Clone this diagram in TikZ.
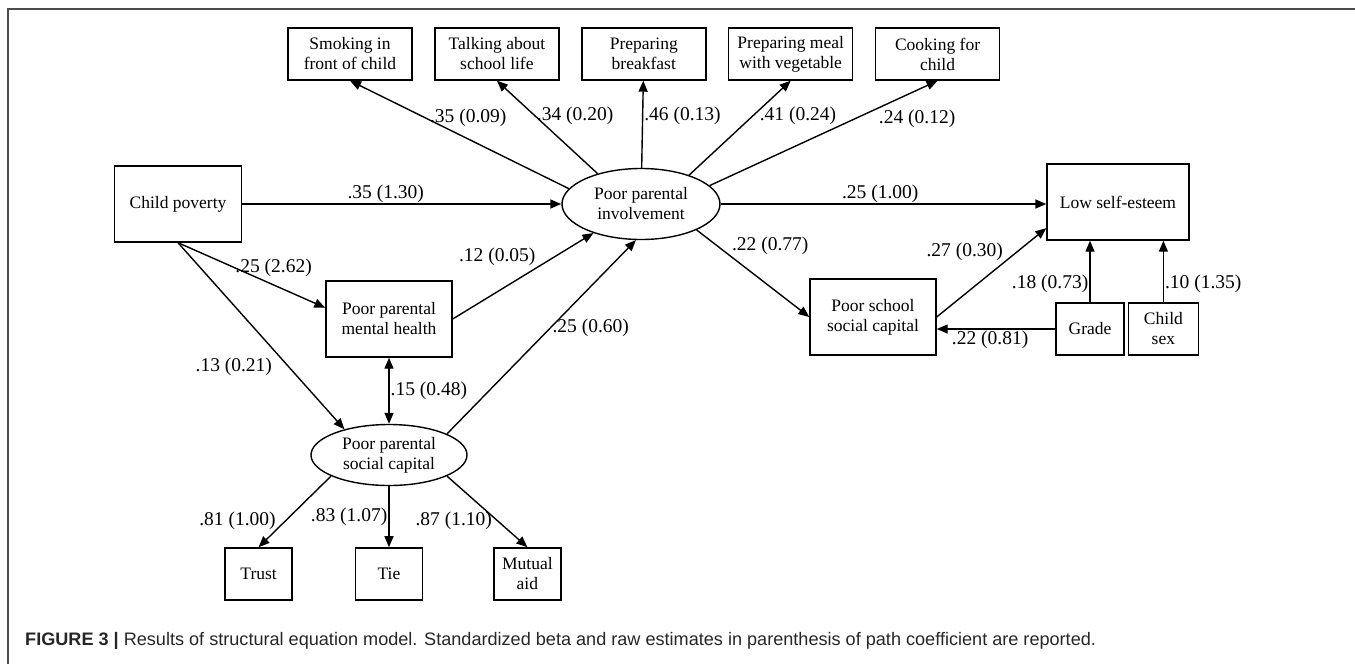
\documentclass[tikz,border=0pt]{standalone}
\usepackage{fontspec}
\setmainfont{Liberation Serif}
\newfontfamily\capfont{Liberation Sans}
\usetikzlibrary{positioning}
\usetikzlibrary{arrows.meta}
\usetikzlibrary{shapes.geometric}
\newcommand{\boxfont}{\fontsize{17.5}{20}\selectfont}
\newcommand{\coeffont}{\fontsize{19.5}{22}\selectfont}

\begin{document}
\begin{tikzpicture}[x=1pt,y=-1pt,
  >={Triangle[length=11pt,width=9pt]},
  box/.style={draw,line width=1.4pt,align=center,inner sep=2pt,font=\boxfont},
  ind/.style={box,minimum width=124pt,minimum height=52pt},
  big/.style={box,minimum width=126pt,minimum height=76pt},
  small/.style={box,minimum width=68pt,minimum height=52pt},
  latent/.style={box,ellipse,inner sep=0pt},
  coef/.style={font=\coeffont,inner sep=1pt},
  pth/.style={line width=1.4pt,->}]

  \useasboundingbox (0,0) rectangle (1355,664);
  \draw[line width=1.5pt,black!70] (8,664) -- (8,9) -- (1355,9);

  % Latent variables
  \node[latent,minimum width=158pt,minimum height=71pt] (inv) at (641,204) {Poor parental\\involvement};
  \node[latent,minimum width=156pt,minimum height=61pt] (sc) at (389,455) {Poor parental\\social capital};

  % Observed variables
  \node[big,minimum width=127pt] (cp) at (178,204) {Child poverty};
  \node[big] (mh) at (389,319) {Poor parental\\mental health};
  \node[big] (school) at (873,317) {Poor school\\social capital};
  \node[big,minimum width=142pt] (lse) at (1118,202) {Low self-esteem};
  \node[small] (grade) at (1090,329) {Grade};
  \node[small,minimum width=70pt,right=3pt of grade] (sex) {Child\\sex};

  % Indicators of involvement (top row)
  \node[ind] (smoke) at (350,54) {Smoking in\\front of child};
  \node[ind,right=21.5pt of smoke] (talk) {Talking about\\school life};
  \node[ind,right=21.5pt of talk] (brk) {Preparing\\breakfast};
  \node[ind,right=21.5pt of brk] (meal) {Preparing meal\\with vegetable};
  \node[ind,right=21.5pt of meal] (cook) {Cooking for\\child};

  % Indicators of social capital (bottom row)
  \node[small,minimum width=67pt,below=61pt of sc] (tie) {Tie};
  \node[small,minimum width=67pt,left=62pt of tie] (trust) {Trust};
  \node[small,minimum width=67pt,right=70pt of tie] (mutual) {Mutual\\aid};

  % Measurement paths
  \draw[pth] (inv.168) -- node[coef,pos=0.66,anchor=west,xshift=4pt]{.35 (0.09)} (smoke.south);
  \draw[pth] (inv.145) -- node[coef,pos=0.62,anchor=west]{.34 (0.20)} (talk.south);
  \draw[pth] (inv) -- node[coef,pos=0.6,anchor=west]{.46 (0.13)} (brk);
  \draw[pth] (inv.31) -- node[coef,pos=0.63,anchor=west,xshift=5pt]{.41 (0.24)} (meal.south);
  \draw[pth] (inv.15) -- node[coef,pos=0.735,anchor=north west]{.24 (0.12)} (cook.south);
  \draw[pth] (sc.200) -- node[coef,pos=0.63,anchor=east,xshift=-8pt]{.81 (1.00)} (trust.north);
  \draw[pth] (sc) -- node[coef,pos=0.5,left]{.83 (1.07)} (tie);
  \draw[pth] (sc.340) -- node[coef,pos=0.63,anchor=east,xshift=-4pt]{.87 (1.10)} (mutual.north);

  % Structural paths
  \draw[pth] (cp) -- node[coef,pos=0.45,above]{.35 (1.30)} (inv);
  \draw[pth] (cp.south) -- node[coef,pos=0.385,anchor=west,inner sep=0pt]{.25 (2.62)} (mh.170);
  \draw[pth] (cp.south) -- node[coef,pos=0.665,anchor=east,xshift=-15pt]{.13 (0.21)} (sc.150);
  \draw[pth] (mh.east) -- node[coef,pos=0.6,anchor=south east]{.12 (0.05)} (inv);
  \draw[pth] (sc.20) -- node[coef,pos=0.55,anchor=west]{.25 (0.60)} (inv.262);
  \draw[line width=1.4pt,<->] (mh) -- node[coef,pos=0.5,anchor=west]{.15 (0.48)} (sc);
  \draw[pth] (inv) -- node[coef,pos=0.49,above]{.25 (1.00)} (inv -| lse.west);
  \draw[pth] (inv.335) -- node[coef,pos=0.3,anchor=south west]{.22 (0.77)} (school.west);
  \draw[pth] (school.east) -- node[coef,pos=0.62,anchor=south east]{.27 (0.30)} (lse.200);
  \draw[pth] (grade) -- node[coef,pos=0.3,left]{.18 (0.73)} (grade |- lse.south);
  \draw[pth] (sex) -- node[coef,pos=0.3,right]{.10 (1.35)} (sex |- lse.south);
  \draw[pth] (grade) -- node[coef,pos=0.55,below]{.22 (0.81)} (grade -| school.east);

  \node[anchor=west,inner sep=0pt,text=black!85,font=\capfont\fontsize{18.1}{20}\selectfont] (caption) at (25,641)
    {\textbf{FIGURE 3 |} Results of structural equation model. Standardized beta and raw estimates in parenthesis of path coefficient are reported.};
\end{tikzpicture}
\end{document}
